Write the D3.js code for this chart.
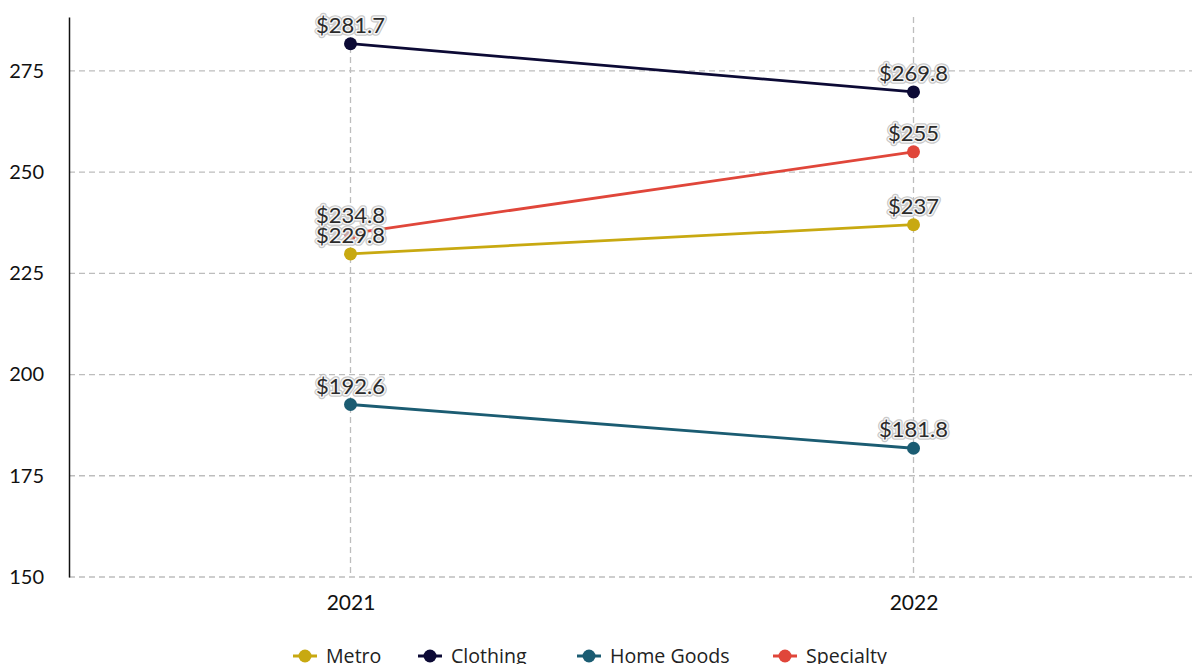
<!DOCTYPE html>
<html>
<head>
<meta charset="utf-8">
<script src="https://cdn.jsdelivr.net/npm/d3@7"></script>
<style>
  html, body { margin: 0; padding: 0; background: #fff; }
  svg { display: block; font-family: Lato, "Open Sans", sans-serif; }
</style>
</head>
<body>
<div id="chart"></div>
<script>
// ── Data ────────────────────────────────────────────────────────────────────
const YEARS  = ["2021", "2022"];
const SERIES = ["Metro", "Clothing", "Home Goods", "Specialty"];
const COLORS = ["#c8a911", "#0c0a35", "#1b5c72", "#e0463a"];
const METRO      = [229.8, 237];
const CLOTHING   = [281.7, 269.8];
const HOME_GOODS = [192.6, 181.8];
const SPECIALTY  = [234.8, 255];
const Y_TICKS    = [150, 175, 200, 225, 250, 275];

(function () {
  "use strict";

  const W = 1192, H = 664;
  const values = [METRO, CLOTHING, HOME_GOODS, SPECIALTY];

  const svg = d3.select("#chart").append("svg")
    .attr("width", W).attr("height", H);

  const x = d3.scalePoint().domain(YEARS).range([69, 1195]).padding(0.5);
  const y = d3.scaleLinear().domain([150, 288.3]).range([577, 17]);

  // ── Grid ────────────────────────────────────────────────────────────────
  const grid = svg.append("g");
  Y_TICKS.forEach(function (v) {
    grid.append("line")
      .attr("x1", 69).attr("x2", W)
      .attr("y1", y(v)).attr("y2", y(v))
      .attr("stroke", "#bdbdbd").attr("stroke-width", 1.3)
      .attr("stroke-dasharray", "6,4");
  });
  YEARS.forEach(function (yr) {
    grid.append("line")
      .attr("x1", x(yr)).attr("x2", x(yr))
      .attr("y1", 17).attr("y2", 577)
      .attr("stroke", "#bdbdbd").attr("stroke-width", 1.3)
      .attr("stroke-dasharray", "6,4");
  });

  // ── Axes ────────────────────────────────────────────────────────────────
  const yAxis = svg.append("g")
    .attr("transform", "translate(69,0)")
    .call(d3.axisLeft(y).tickValues(Y_TICKS).tickSize(0).tickPadding(25));
  yAxis.select(".domain").attr("stroke", "#111").attr("stroke-width", 1.5);
  yAxis.selectAll("text").attr("font-size", 20).attr("fill", "#111")
    .attr("font-family", "Lato, sans-serif");

  const xAxis = svg.append("g")
    .attr("transform", "translate(0,577)")
    .call(d3.axisBottom(x).tickSize(0).tickPadding(18));
  xAxis.select(".domain").remove();
  xAxis.selectAll("text").attr("font-size", 21).attr("fill", "#111")
    .attr("font-family", "Lato, sans-serif");

  // ── Lines + points ──────────────────────────────────────────────────────
  const line = d3.line().x((d, i) => x(YEARS[i])).y(d => y(d));
  const plot = svg.append("g");

  SERIES.forEach(function (name, si) {
    plot.append("path")
      .datum(values[si])
      .attr("d", line)
      .attr("fill", "none")
      .attr("stroke", COLORS[si])
      .attr("stroke-width", 2.8);
    values[si].forEach(function (v, i) {
      plot.append("circle")
        .attr("cx", x(YEARS[i])).attr("cy", y(v))
        .attr("r", 6.5)
        .attr("fill", COLORS[si]);
    });
  });

  // ── Value labels (with halo) ────────────────────────────────────────────
  const labels = svg.append("g")
    .attr("font-size", 22)
    .attr("font-family", "Lato, sans-serif")
    .attr("text-anchor", "middle");

  SERIES.forEach(function (name, si) {
    values[si].forEach(function (v, i) {
      const lx = x(YEARS[i]), ly = y(v) - 11;
      const txt = "$" + v;
      labels.append("text")
        .attr("x", lx).attr("y", ly)
        .attr("fill", "none")
        .attr("stroke", "#bfbfbf").attr("stroke-width", 5.5)
        .attr("stroke-linejoin", "round")
        .attr("stroke-opacity", 0.85)
        .text(txt);
      labels.append("text")
        .attr("x", lx).attr("y", ly)
        .attr("fill", "none")
        .attr("stroke", "#fff").attr("stroke-width", 3)
        .attr("stroke-linejoin", "round")
        .attr("stroke-opacity", 0.85)
        .text(txt);
      labels.append("text")
        .attr("x", lx).attr("y", ly)
        .attr("fill", "#2b2b2b")
        .text(txt);
    });
  });

  // ── Legend ──────────────────────────────────────────────────────────────
  const legendX = [293, 418, 577, 773];
  const legend = svg.append("g").attr("transform", "translate(0,656)");
  SERIES.forEach(function (name, si) {
    const g = legend.append("g").attr("transform", `translate(${legendX[si]},0)`);
    g.append("line")
      .attr("x1", 0).attr("x2", 24)
      .attr("stroke", COLORS[si]).attr("stroke-width", 3);
    g.append("circle")
      .attr("cx", 12).attr("r", 6.5)
      .attr("fill", COLORS[si]);
    g.append("text")
      .attr("x", 33).attr("y", 7)
      .attr("font-size", 19.6)
      .attr("font-family", "'Open Sans', sans-serif")
      .attr("fill", "#222")
      .text(name);
  });
})();
</script>
</body>
</html>
